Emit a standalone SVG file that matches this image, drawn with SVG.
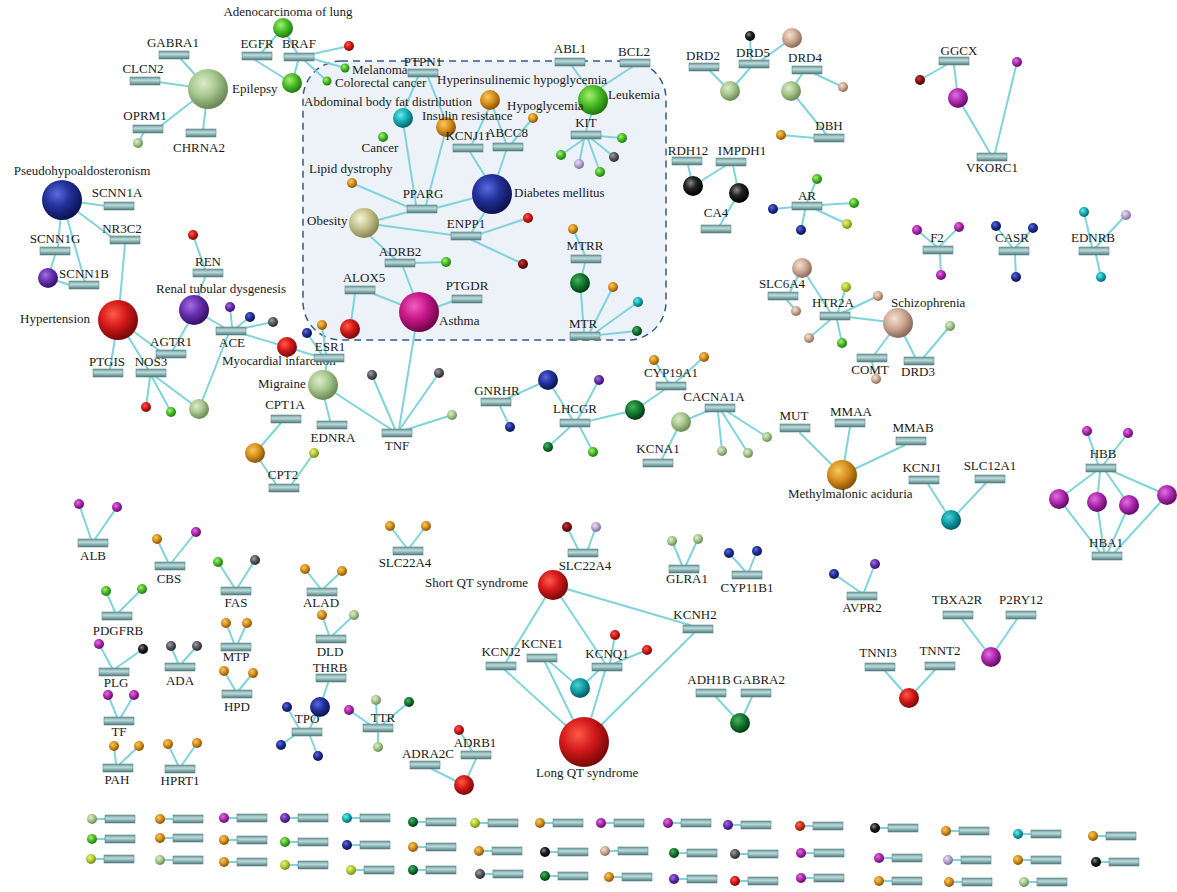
<svg xmlns="http://www.w3.org/2000/svg" xmlns:xlink="http://www.w3.org/1999/xlink" width="1177" height="892" viewBox="0 0 1177 892">
<defs>
<linearGradient id="gb" x1="0" y1="0" x2="0" y2="1"><stop offset="0" stop-color="#6c9496"/><stop offset="0.4" stop-color="#bcdcdc"/><stop offset="0.6" stop-color="#98bebe"/><stop offset="1" stop-color="#4f7678"/></linearGradient>
<rect id="bx" width="30" height="8" fill="url(#gb)" stroke="#5f8789" stroke-width="0.6"/>
<radialGradient id="g-red" cx="0.38" cy="0.35" r="0.65"><stop offset="0" stop-color="#ff5a4a"/><stop offset="0.5" stop-color="#d41a1a"/><stop offset="1" stop-color="#7a0808"/></radialGradient>
<radialGradient id="g-dred" cx="0.38" cy="0.35" r="0.65"><stop offset="0" stop-color="#c04040"/><stop offset="0.5" stop-color="#8a1010"/><stop offset="1" stop-color="#4a0404"/></radialGradient>
<radialGradient id="g-grn" cx="0.38" cy="0.35" r="0.65"><stop offset="0" stop-color="#a8f070"/><stop offset="0.5" stop-color="#4cbf2a"/><stop offset="1" stop-color="#1f7a10"/></radialGradient>
<radialGradient id="g-dgrn" cx="0.38" cy="0.35" r="0.65"><stop offset="0" stop-color="#4cb060"/><stop offset="0.5" stop-color="#137a30"/><stop offset="1" stop-color="#063a14"/></radialGradient>
<radialGradient id="g-sage" cx="0.38" cy="0.35" r="0.65"><stop offset="0" stop-color="#dcecc8"/><stop offset="0.5" stop-color="#a8c890"/><stop offset="1" stop-color="#6a8a55"/></radialGradient>
<radialGradient id="g-yg" cx="0.38" cy="0.35" r="0.65"><stop offset="0" stop-color="#eef080"/><stop offset="0.5" stop-color="#b8cc3a"/><stop offset="1" stop-color="#788a10"/></radialGradient>
<radialGradient id="g-org" cx="0.38" cy="0.35" r="0.65"><stop offset="0" stop-color="#f8c860"/><stop offset="0.5" stop-color="#d8921e"/><stop offset="1" stop-color="#8a5405"/></radialGradient>
<radialGradient id="g-pur" cx="0.38" cy="0.35" r="0.65"><stop offset="0" stop-color="#e070e0"/><stop offset="0.5" stop-color="#b02cb0"/><stop offset="1" stop-color="#650a6a"/></radialGradient>
<radialGradient id="g-vio" cx="0.38" cy="0.35" r="0.65"><stop offset="0" stop-color="#a070e0"/><stop offset="0.5" stop-color="#6a30b0"/><stop offset="1" stop-color="#35106a"/></radialGradient>
<radialGradient id="g-blu" cx="0.38" cy="0.35" r="0.65"><stop offset="0" stop-color="#5a6ae0"/><stop offset="0.5" stop-color="#22309a"/><stop offset="1" stop-color="#0c1450"/></radialGradient>
<radialGradient id="g-cyn" cx="0.38" cy="0.35" r="0.65"><stop offset="0" stop-color="#70e8f0"/><stop offset="0.5" stop-color="#18b0b8"/><stop offset="1" stop-color="#05666c"/></radialGradient>
<radialGradient id="g-blk" cx="0.38" cy="0.35" r="0.65"><stop offset="0" stop-color="#8a8a8a"/><stop offset="0.45" stop-color="#222"/><stop offset="1" stop-color="#000"/></radialGradient>
<radialGradient id="g-gry" cx="0.38" cy="0.35" r="0.65"><stop offset="0" stop-color="#a0a0a8"/><stop offset="0.5" stop-color="#5a5a60"/><stop offset="1" stop-color="#282830"/></radialGradient>
<radialGradient id="g-tan" cx="0.38" cy="0.35" r="0.65"><stop offset="0" stop-color="#f4e0d0"/><stop offset="0.5" stop-color="#d0ac98"/><stop offset="1" stop-color="#8a6a58"/></radialGradient>
<radialGradient id="g-lav" cx="0.38" cy="0.35" r="0.65"><stop offset="0" stop-color="#ece0f4"/><stop offset="0.5" stop-color="#b8a8d0"/><stop offset="1" stop-color="#7a6a98"/></radialGradient>
<radialGradient id="g-kha" cx="0.38" cy="0.35" r="0.65"><stop offset="0" stop-color="#f4f4d8"/><stop offset="0.5" stop-color="#c8c490"/><stop offset="1" stop-color="#8a8650"/></radialGradient>
<radialGradient id="g-mag" cx="0.38" cy="0.35" r="0.65"><stop offset="0" stop-color="#f060c0"/><stop offset="0.5" stop-color="#c8188a"/><stop offset="1" stop-color="#70064a"/></radialGradient>
<radialGradient id="g-ror" cx="0.38" cy="0.35" r="0.65"><stop offset="0" stop-color="#f07050"/><stop offset="0.5" stop-color="#d03818"/><stop offset="1" stop-color="#801808"/></radialGradient>
<radialGradient id="g-teal" cx="0.38" cy="0.35" r="0.65"><stop offset="0" stop-color="#50d0d0"/><stop offset="0.5" stop-color="#10a0a8"/><stop offset="1" stop-color="#055a60"/></radialGradient>
</defs>
<style>
text{font-family:"Liberation Serif","Times New Roman",serif;font-size:13px;fill:#1a1a1a}
.m{text-anchor:middle}
#connectors line{stroke:#7fd4dc;stroke-width:2;stroke-linecap:round}
.red{fill:url(#g-red)}.dred{fill:url(#g-dred)}.grn{fill:url(#g-grn)}.dgrn{fill:url(#g-dgrn)}.sage{fill:url(#g-sage)}.yg{fill:url(#g-yg)}.org{fill:url(#g-org)}.pur{fill:url(#g-pur)}.vio{fill:url(#g-vio)}.blu{fill:url(#g-blu)}.cyn{fill:url(#g-cyn)}.blk{fill:url(#g-blk)}.gry{fill:url(#g-gry)}.tan{fill:url(#g-tan)}.lav{fill:url(#g-lav)}.kha{fill:url(#g-kha)}.mag{fill:url(#g-mag)}.ror{fill:url(#g-ror)}.teal{fill:url(#g-teal)}
</style>
<rect width="1177" height="892" fill="#fff"/>
<g id="diabetes-module"><rect x="303" y="61" width="363" height="279" rx="38" ry="38" fill="#edf1f8" stroke="#2f5a96" stroke-width="1.5" stroke-dasharray="7,5"/></g>
<g id="connectors">
<line x1="208" y1="89" x2="180" y2="58"/><line x1="208" y1="89" x2="158" y2="82"/><line x1="208" y1="89" x2="158" y2="128"/><line x1="208" y1="89" x2="203" y2="130"/><line x1="144" y1="132" x2="138" y2="143"/>
<line x1="283" y1="28" x2="262" y2="52"/><line x1="283" y1="28" x2="297" y2="53"/><line x1="255" y1="60" x2="292" y2="83"/><line x1="298" y1="61" x2="292" y2="83"/><line x1="308" y1="55" x2="349" y2="46"/><line x1="310" y1="58" x2="345" y2="68"/><line x1="305" y1="61" x2="327" y2="81"/>
<line x1="62" y1="200" x2="106" y2="206"/><line x1="62" y1="200" x2="113" y2="238"/><line x1="62" y1="200" x2="58" y2="247"/><line x1="62" y1="200" x2="85" y2="282"/><line x1="55" y1="255" x2="48" y2="278"/><line x1="48" y1="278" x2="70" y2="285"/><line x1="125" y1="244" x2="120" y2="300"/>
<line x1="118" y1="320" x2="110" y2="369"/><line x1="118" y1="320" x2="148" y2="369"/><line x1="118" y1="320" x2="160" y2="351"/><line x1="173" y1="350" x2="190" y2="320"/><line x1="198" y1="297" x2="205" y2="277"/><line x1="205" y1="269" x2="193" y2="235"/><line x1="194" y1="310" x2="225" y2="328"/><line x1="232" y1="327" x2="230" y2="307"/><line x1="236" y1="328" x2="250" y2="317"/><line x1="240" y1="329" x2="273" y2="322"/><line x1="240" y1="333" x2="287" y2="347"/><line x1="228" y1="335" x2="199" y2="409"/><line x1="150" y1="377" x2="146" y2="407"/><line x1="152" y1="377" x2="171" y2="412"/><line x1="156" y1="377" x2="199" y2="409"/>
<line x1="326" y1="354" x2="322" y2="325"/><line x1="322" y1="355" x2="307" y2="333"/><line x1="316" y1="356" x2="287" y2="347"/><line x1="327" y1="362" x2="323" y2="385"/>
<line x1="325" y1="400" x2="330" y2="421"/><line x1="323" y1="385" x2="392" y2="430"/><line x1="395" y1="429" x2="372" y2="375"/><line x1="400" y1="429" x2="439" y2="373"/><line x1="405" y1="430" x2="452" y2="415"/><line x1="418" y1="312" x2="399" y2="429"/>
<line x1="281" y1="423" x2="255" y2="453"/><line x1="255" y1="453" x2="276" y2="484"/><line x1="292" y1="484" x2="314" y2="453"/>
<line x1="572" y1="66" x2="588" y2="88"/><line x1="632" y1="67" x2="600" y2="88"/><line x1="592" y1="112" x2="586" y2="131"/><line x1="584" y1="139" x2="561" y2="155"/><line x1="584" y1="139" x2="579" y2="164"/><line x1="588" y1="139" x2="600" y2="172"/><line x1="592" y1="139" x2="614" y2="157"/><line x1="598" y1="136" x2="622" y2="138"/>
<line x1="418" y1="77" x2="405" y2="108"/><line x1="428" y1="77" x2="444" y2="117"/><line x1="404" y1="128" x2="416" y2="205"/><line x1="444" y1="137" x2="426" y2="205"/><line x1="352" y1="183" x2="408" y2="207"/><line x1="436" y1="208" x2="474" y2="198"/><line x1="408" y1="212" x2="378" y2="220"/><line x1="488" y1="110" x2="472" y2="144"/><line x1="494" y1="110" x2="506" y2="143"/><line x1="533" y1="118" x2="512" y2="143"/><line x1="470" y1="152" x2="485" y2="176"/><line x1="506" y1="151" x2="498" y2="175"/><line x1="485" y1="212" x2="472" y2="232"/><line x1="364" y1="223" x2="452" y2="235"/><line x1="480" y1="234" x2="528" y2="218"/><line x1="472" y1="240" x2="523" y2="264"/><line x1="370" y1="236" x2="395" y2="259"/><line x1="403" y1="267" x2="413" y2="293"/><line x1="414" y1="263" x2="446" y2="262"/><line x1="355" y1="294" x2="350" y2="329"/><line x1="374" y1="294" x2="402" y2="305"/><line x1="453" y1="301" x2="437" y2="307"/>
<line x1="585" y1="255" x2="573" y2="229"/><line x1="585" y1="263" x2="580" y2="283"/><line x1="581" y1="293" x2="584" y2="332"/><line x1="590" y1="332" x2="613" y2="287"/><line x1="595" y1="333" x2="638" y2="302"/><line x1="598" y1="335" x2="637" y2="331"/>
<line x1="710" y1="71" x2="730" y2="91"/><line x1="750" y1="68" x2="730" y2="91"/><line x1="751" y1="60" x2="750" y2="36"/><line x1="762" y1="60" x2="792" y2="38"/><line x1="802" y1="74" x2="791" y2="91"/><line x1="815" y1="74" x2="843" y2="87"/><line x1="791" y1="91" x2="826" y2="134"/><line x1="815" y1="138" x2="781" y2="135"/>
<line x1="688" y1="165" x2="693" y2="186"/><line x1="725" y1="166" x2="693" y2="186"/><line x1="733" y1="166" x2="739" y2="193"/><line x1="739" y1="193" x2="720" y2="225"/>
<line x1="807" y1="202" x2="817" y2="179"/><line x1="820" y1="205" x2="854" y2="203"/><line x1="815" y1="209" x2="847" y2="224"/><line x1="805" y1="210" x2="801" y2="230"/><line x1="795" y1="207" x2="773" y2="209"/>
<line x1="946" y1="65" x2="920" y2="80"/><line x1="954" y1="65" x2="958" y2="98"/><line x1="958" y1="98" x2="990" y2="153"/><line x1="995" y1="153" x2="1017" y2="62"/>
<line x1="936" y1="246" x2="917" y2="230"/><line x1="940" y1="246" x2="959" y2="227"/><line x1="940" y1="254" x2="941" y2="275"/><line x1="1012" y1="247" x2="996" y2="226"/><line x1="1016" y1="247" x2="1033" y2="228"/><line x1="1015" y1="255" x2="1016" y2="277"/><line x1="1092" y1="247" x2="1084" y2="212"/><line x1="1096" y1="247" x2="1126" y2="215"/><line x1="1096" y1="255" x2="1101" y2="277"/>
<line x1="790" y1="292" x2="802" y2="268"/><line x1="787" y1="300" x2="796" y2="311"/><line x1="802" y1="268" x2="830" y2="312"/><line x1="838" y1="312" x2="846" y2="287"/><line x1="842" y1="313" x2="878" y2="296"/><line x1="830" y1="320" x2="809" y2="338"/><line x1="837" y1="320" x2="842" y2="343"/><line x1="848" y1="317" x2="898" y2="323"/><line x1="898" y1="323" x2="875" y2="354"/><line x1="872" y1="362" x2="876" y2="379"/><line x1="898" y1="323" x2="915" y2="357"/><line x1="924" y1="357" x2="950" y2="326"/>
<line x1="508" y1="398" x2="548" y2="380"/><line x1="500" y1="406" x2="510" y2="427"/><line x1="548" y1="380" x2="572" y2="419"/><line x1="578" y1="419" x2="599" y2="380"/><line x1="570" y1="427" x2="548" y2="447"/><line x1="580" y1="427" x2="593" y2="452"/><line x1="589" y1="421" x2="635" y2="410"/><line x1="635" y1="410" x2="664" y2="390"/><line x1="668" y1="382" x2="654" y2="360"/><line x1="676" y1="382" x2="704" y2="357"/><line x1="681" y1="422" x2="710" y2="410"/><line x1="681" y1="422" x2="662" y2="459"/><line x1="718" y1="412" x2="722" y2="451"/><line x1="722" y1="412" x2="748" y2="453"/><line x1="728" y1="412" x2="767" y2="437"/>
<line x1="800" y1="433" x2="842" y2="475"/><line x1="850" y1="427" x2="842" y2="475"/><line x1="905" y1="445" x2="842" y2="475"/>
<line x1="928" y1="484" x2="951" y2="520"/><line x1="986" y1="483" x2="951" y2="520"/>
<line x1="1098" y1="464" x2="1087" y2="431"/><line x1="1104" y1="464" x2="1128" y2="433"/><line x1="1095" y1="472" x2="1059" y2="499"/><line x1="1100" y1="472" x2="1097" y2="502"/><line x1="1106" y1="472" x2="1129" y2="505"/><line x1="1112" y1="471" x2="1167" y2="495"/><line x1="1100" y1="552" x2="1059" y2="499"/><line x1="1104" y1="552" x2="1097" y2="502"/><line x1="1108" y1="552" x2="1129" y2="505"/><line x1="1115" y1="552" x2="1167" y2="495"/>
<line x1="91" y1="539" x2="79" y2="504"/><line x1="95" y1="539" x2="117" y2="507"/><line x1="168" y1="562" x2="157" y2="539"/><line x1="172" y1="562" x2="196" y2="532"/><line x1="234" y1="587" x2="218" y2="562"/><line x1="238" y1="587" x2="255" y2="560"/><line x1="115" y1="612" x2="106" y2="591"/><line x1="119" y1="612" x2="142" y2="589"/><line x1="112" y1="668" x2="99" y2="644"/><line x1="116" y1="668" x2="143" y2="649"/><line x1="178" y1="663" x2="171" y2="646"/><line x1="182" y1="663" x2="197" y2="646"/><line x1="234" y1="643" x2="226" y2="623"/><line x1="238" y1="643" x2="247" y2="623"/><line x1="235" y1="690" x2="224" y2="671"/><line x1="239" y1="690" x2="253" y2="673"/><line x1="117" y1="717" x2="108" y2="695"/><line x1="121" y1="717" x2="134" y2="695"/><line x1="116" y1="764" x2="114" y2="746"/><line x1="120" y1="764" x2="139" y2="746"/><line x1="178" y1="765" x2="168" y2="744"/><line x1="182" y1="765" x2="197" y2="743"/>
<line x1="406" y1="547" x2="390" y2="526"/><line x1="410" y1="547" x2="426" y2="526"/><line x1="320" y1="588" x2="305" y2="569"/><line x1="324" y1="588" x2="342" y2="571"/><line x1="329" y1="635" x2="322" y2="615"/><line x1="333" y1="635" x2="354" y2="615"/>
<line x1="328" y1="683" x2="320" y2="707"/><line x1="320" y1="707" x2="310" y2="728"/><line x1="300" y1="730" x2="287" y2="707"/><line x1="295" y1="735" x2="281" y2="745"/><line x1="310" y1="736" x2="318" y2="756"/>
<line x1="372" y1="726" x2="349" y2="710"/><line x1="377" y1="724" x2="376" y2="700"/><line x1="383" y1="724" x2="409" y2="702"/><line x1="378" y1="732" x2="378" y2="747"/>
<line x1="472" y1="751" x2="459" y2="730"/><line x1="476" y1="759" x2="464" y2="785"/><line x1="432" y1="769" x2="464" y2="785"/>
<line x1="578" y1="549" x2="567" y2="527"/><line x1="588" y1="549" x2="596" y2="527"/>
<line x1="553" y1="585" x2="506" y2="662"/><line x1="553" y1="585" x2="605" y2="663"/><line x1="553" y1="585" x2="690" y2="625"/><line x1="505" y1="670" x2="584" y2="742"/><line x1="545" y1="662" x2="584" y2="742"/><line x1="550" y1="662" x2="580" y2="688"/><line x1="598" y1="671" x2="580" y2="688"/><line x1="605" y1="671" x2="584" y2="742"/><line x1="610" y1="663" x2="615" y2="635"/><line x1="615" y1="663" x2="647" y2="650"/><line x1="694" y1="633" x2="584" y2="742"/>
<line x1="682" y1="565" x2="672" y2="541"/><line x1="686" y1="565" x2="698" y2="539"/><line x1="745" y1="571" x2="729" y2="553"/><line x1="749" y1="571" x2="757" y2="551"/><line x1="860" y1="592" x2="834" y2="574"/><line x1="864" y1="592" x2="875" y2="564"/>
<line x1="716" y1="697" x2="740" y2="723"/><line x1="752" y1="697" x2="740" y2="723"/>
<line x1="962" y1="619" x2="991" y2="657"/><line x1="1017" y1="619" x2="991" y2="657"/><line x1="885" y1="671" x2="909" y2="698"/><line x1="935" y1="670" x2="909" y2="698"/>
<line x1="97" y1="819" x2="105" y2="819"/><line x1="165" y1="819" x2="173" y2="819"/><line x1="229" y1="818" x2="237" y2="818"/><line x1="290" y1="818" x2="298" y2="818"/><line x1="352" y1="818" x2="360" y2="818"/><line x1="418" y1="822" x2="426" y2="822"/><line x1="480" y1="823" x2="488" y2="823"/><line x1="545" y1="823" x2="553" y2="823"/><line x1="606" y1="823" x2="614" y2="823"/><line x1="673" y1="823" x2="681" y2="823"/><line x1="733" y1="825" x2="741" y2="825"/><line x1="805" y1="826" x2="813" y2="826"/><line x1="880" y1="828" x2="888" y2="828"/><line x1="951" y1="831" x2="959" y2="831"/><line x1="1023" y1="834" x2="1031" y2="834"/><line x1="1098" y1="836" x2="1106" y2="836"/>
<line x1="97" y1="839" x2="105" y2="839"/><line x1="165" y1="838" x2="173" y2="838"/><line x1="229" y1="840" x2="237" y2="840"/><line x1="290" y1="842" x2="298" y2="842"/><line x1="352" y1="845" x2="360" y2="845"/><line x1="418" y1="847" x2="426" y2="847"/><line x1="484" y1="851" x2="492" y2="851"/><line x1="550" y1="852" x2="558" y2="852"/><line x1="610" y1="851" x2="618" y2="851"/><line x1="679" y1="853" x2="687" y2="853"/><line x1="740" y1="854" x2="748" y2="854"/><line x1="806" y1="853" x2="814" y2="853"/><line x1="884" y1="858" x2="892" y2="858"/><line x1="953" y1="860" x2="961" y2="860"/><line x1="1023" y1="860" x2="1031" y2="860"/><line x1="1101" y1="862" x2="1109" y2="862"/>
<line x1="96" y1="859" x2="104" y2="859"/><line x1="165" y1="860" x2="173" y2="860"/><line x1="229" y1="862" x2="237" y2="862"/><line x1="290" y1="865" x2="298" y2="865"/><line x1="356" y1="870" x2="364" y2="870"/><line x1="418" y1="870" x2="426" y2="870"/><line x1="485" y1="874" x2="493" y2="874"/><line x1="550" y1="876" x2="558" y2="876"/><line x1="614" y1="877" x2="622" y2="877"/><line x1="679" y1="879" x2="687" y2="879"/><line x1="740" y1="881" x2="748" y2="881"/><line x1="806" y1="878" x2="814" y2="878"/><line x1="884" y1="881" x2="892" y2="881"/><line x1="954" y1="882" x2="962" y2="882"/><line x1="1029" y1="882" x2="1037" y2="882"/>
</g>
<g id="gene-GABRA1"><use href="#bx" x="159" y="51"/><text class="m" x="173" y="47">GABRA1</text></g>
<g id="gene-CLCN2"><use href="#bx" x="130" y="77"/><text class="m" x="143" y="73">CLCN2</text></g>
<g id="gene-OPRM1"><use href="#bx" x="133" y="125"/><text class="m" x="145" y="120">OPRM1</text></g>
<g id="gene-CHRNA2"><use href="#bx" x="186" y="129"/><text class="m" x="199" y="152">CHRNA2</text></g>
<g id="d-Epilepsy"><circle class="sage" cx="208" cy="89" r="20"/><text x="232" y="93">Epilepsy</text></g>
<g id="s-oprm1"><circle class="sage" cx="138" cy="143" r="5"/></g>
<g id="d-Adeno"><circle class="grn" cx="283" cy="28" r="10"/><text class="m" x="288" y="16">Adenocarcinoma of lung</text></g>
<g id="gene-EGFR"><use href="#bx" x="242" y="52"/><text class="m" x="257" y="48">EGFR</text></g>
<g id="gene-BRAF"><use href="#bx" x="284" y="53"/><text class="m" x="299" y="48">BRAF</text></g>
<g id="s-braf1"><circle class="grn" cx="292" cy="83" r="10"/></g>
<g id="s-braf2"><circle class="red" cx="349" cy="46" r="5"/></g>
<g id="d-Melanoma"><circle class="grn" cx="345" cy="68" r="4.5"/><text x="352" y="74">Melanoma</text></g>
<g id="d-Colorectal"><circle class="grn" cx="327" cy="81" r="4.5"/><text x="335" y="87">Colorectal cancer</text></g>
<g id="d-Pseudo"><circle class="blu" cx="62" cy="200" r="20"/><text class="m" x="82" y="175">Pseudohypoaldosteronism</text></g>
<g id="gene-SCNN1A"><use href="#bx" x="104" y="202"/><text class="m" x="117" y="197">SCNN1A</text></g>
<g id="gene-NR3C2"><use href="#bx" x="110" y="236"/><text class="m" x="122" y="233">NR3C2</text></g>
<g id="gene-SCNN1G"><use href="#bx" x="40" y="247"/><text class="m" x="55" y="243">SCNN1G</text></g>
<g id="s-scnn"><circle class="vio" cx="48" cy="278" r="10"/></g>
<g id="gene-SCNN1B"><use href="#bx" x="69" y="281"/><text class="m" x="84" y="278">SCNN1B</text></g>
<g id="d-Hypertension"><circle class="red" cx="118" cy="320" r="20"/><text x="20" y="323">Hypertension</text></g>
<g id="gene-PTGIS"><use href="#bx" x="93" y="369"/><text class="m" x="107" y="366">PTGIS</text></g>
<g id="gene-NOS3"><use href="#bx" x="136" y="369"/><text class="m" x="151" y="366">NOS3</text></g>
<g id="gene-AGTR1"><use href="#bx" x="156" y="350"/><text class="m" x="171" y="346">AGTR1</text></g>
<g id="d-Renal"><circle class="vio" cx="194" cy="310" r="15"/><text x="156" y="293">Renal tubular dysgenesis</text></g>
<g id="s-ren"><circle class="red" cx="193" cy="235" r="5"/></g>
<g id="gene-REN"><use href="#bx" x="193" y="269"/><text class="m" x="208" y="266">REN</text></g>
<g id="gene-ACE"><use href="#bx" x="216" y="327"/><text class="m" x="232" y="347">ACE</text></g>
<g id="s-ace1"><circle class="vio" cx="230" cy="307" r="5"/></g>
<g id="s-ace2"><circle class="blu" cx="250" cy="317" r="5"/></g>
<g id="s-ace3"><circle class="gry" cx="273" cy="322" r="5"/></g>
<g id="d-MI"><circle class="red" cx="287" cy="347" r="10"/><text x="222" y="365">Myocardial infarction</text></g>
<g id="s-nos1"><circle class="red" cx="146" cy="407" r="5"/></g>
<g id="s-nos2"><circle class="grn" cx="171" cy="412" r="5"/></g>
<g id="s-nos3"><circle class="sage" cx="199" cy="409" r="10"/></g>
<g id="s-esr1"><circle class="org" cx="322" cy="325" r="5"/></g>
<g id="s-esr2"><circle class="blu" cx="307" cy="333" r="5"/></g>
<g id="gene-ESR1"><use href="#bx" x="314" y="354"/><text class="m" x="330" y="351">ESR1</text></g>
<g id="d-Migraine"><circle class="sage" cx="323" cy="385" r="15"/><text x="258" y="388">Migraine</text></g>
<g id="gene-EDNRA"><use href="#bx" x="317" y="421"/><text class="m" x="333" y="442">EDNRA</text></g>
<g id="gene-TNF"><use href="#bx" x="382" y="429"/><text class="m" x="397" y="450">TNF</text></g>
<g id="s-tnf1"><circle class="gry" cx="372" cy="375" r="5"/></g>
<g id="s-tnf2"><circle class="gry" cx="439" cy="373" r="5"/></g>
<g id="s-tnf3"><circle class="sage" cx="452" cy="415" r="5"/></g>
<g id="gene-CPT1A"><use href="#bx" x="271" y="415"/><text class="m" x="285" y="409">CPT1A</text></g>
<g id="s-cpt"><circle class="org" cx="255" cy="453" r="10"/></g>
<g id="gene-CPT2"><use href="#bx" x="269" y="484"/><text class="m" x="283" y="479">CPT2</text></g>
<g id="s-cpt2"><circle class="yg" cx="314" cy="453" r="5"/></g>
<g id="gene-ABL1"><use href="#bx" x="555" y="58"/><text class="m" x="570" y="53">ABL1</text></g>
<g id="gene-BCL2"><use href="#bx" x="620" y="59"/><text class="m" x="634" y="56">BCL2</text></g>
<g id="gene-KIT"><use href="#bx" x="571" y="131"/><text class="m" x="586" y="127">KIT</text></g>
<g id="s-kit1"><circle class="grn" cx="561" cy="155" r="5"/></g>
<g id="s-kit2"><circle class="lav" cx="579" cy="164" r="5"/></g>
<g id="s-kit3"><circle class="grn" cx="600" cy="172" r="5"/></g>
<g id="s-kit4"><circle class="gry" cx="614" cy="157" r="5"/></g>
<g id="s-kit5"><circle class="grn" cx="622" cy="138" r="5"/></g>
<g id="gene-PTPN1"><use href="#bx" x="408" y="69"/><text class="m" x="423" y="66">PTPN1</text></g>
<g id="d-Abdominal"><circle class="cyn" cx="403" cy="118" r="10"/><text x="304" y="106">Abdominal body fat distribution</text></g>
<g id="d-Hyperins"><circle class="org" cx="490" cy="100" r="10"/><text x="437" y="84">Hyperinsulinemic hypoglycemia</text></g>
<g id="d-Leukemia"><circle class="grn" cx="593" cy="100" r="15"/><text x="608" y="99">Leukemia</text></g>
<g id="d-InsulinRes"><circle class="org" cx="446" cy="127" r="10"/><text x="422" y="120">Insulin resistance</text></g>
<g id="d-Hypoglycemia"><circle class="org" cx="533" cy="118" r="5"/><text x="507" y="110">Hypoglycemia</text></g>
<g id="gene-KCNJ11"><use href="#bx" x="453" y="144"/><text class="m" x="468" y="140">KCNJ11</text></g>
<g id="gene-ABCC8"><use href="#bx" x="493" y="143"/><text class="m" x="507" y="137">ABCC8</text></g>
<g id="d-Cancer"><circle class="grn" cx="383" cy="137" r="5"/><text class="m" x="380" y="152">Cancer</text></g>
<g id="d-Lipid"><circle class="org" cx="352" cy="183" r="5"/><text x="309" y="173">Lipid dystrophy</text></g>
<g id="gene-PPARG"><use href="#bx" x="407" y="205"/><text class="m" x="423" y="198">PPARG</text></g>
<g id="d-Diabetes"><circle class="blu" cx="492" cy="194" r="20"/><text x="514" y="197">Diabetes mellitus</text></g>
<g id="d-Obesity"><circle class="kha" cx="364" cy="223" r="15"/><text x="307" y="225">Obesity</text></g>
<g id="gene-ENPP1"><use href="#bx" x="451" y="232"/><text class="m" x="466" y="228">ENPP1</text></g>
<g id="s-enpp1"><circle class="red" cx="528" cy="218" r="5"/></g>
<g id="s-enpp2"><circle class="dred" cx="523" cy="264" r="5"/></g>
<g id="gene-ADRB2"><use href="#bx" x="385" y="259"/><text class="m" x="400" y="256">ADRB2</text></g>
<g id="s-adrb2"><circle class="grn" cx="446" cy="262" r="5"/></g>
<g id="gene-PTGDR"><use href="#bx" x="452" y="295"/><text class="m" x="467" y="290">PTGDR</text></g>
<g id="gene-ALOX5"><use href="#bx" x="345" y="286"/><text class="m" x="364" y="282">ALOX5</text></g>
<g id="s-alox5"><circle class="red" cx="350" cy="329" r="10"/></g>
<g id="d-Asthma"><circle class="mag" cx="419" cy="312" r="20"/><text x="439" y="325">Asthma</text></g>
<g id="gene-MTRR"><use href="#bx" x="571" y="255"/><text class="m" x="585" y="250">MTRR</text></g>
<g id="s-mtrr1"><circle class="org" cx="573" cy="229" r="5"/></g>
<g id="s-mtrr2"><circle class="dgrn" cx="580" cy="283" r="10"/></g>
<g id="gene-MTR"><use href="#bx" x="570" y="332"/><text class="m" x="583" y="328">MTR</text></g>
<g id="s-mtr1"><circle class="org" cx="613" cy="287" r="5"/></g>
<g id="s-mtr2"><circle class="cyn" cx="638" cy="302" r="5"/></g>
<g id="s-mtr3"><circle class="dgrn" cx="637" cy="331" r="5"/></g>
<g id="gene-DRD2"><use href="#bx" x="689" y="63"/><text class="m" x="703" y="60">DRD2</text></g>
<g id="gene-DRD5"><use href="#bx" x="739" y="60"/><text class="m" x="753" y="57">DRD5</text></g>
<g id="s-drd1"><circle class="blk" cx="750" cy="36" r="5"/></g>
<g id="s-drd2"><circle class="tan" cx="792" cy="38" r="10"/></g>
<g id="s-drd3"><circle class="sage" cx="730" cy="91" r="10"/></g>
<g id="gene-DRD4"><use href="#bx" x="792" y="66"/><text class="m" x="805" y="62">DRD4</text></g>
<g id="s-drd4"><circle class="sage" cx="791" cy="91" r="10"/></g>
<g id="s-drd5"><circle class="tan" cx="843" cy="87" r="5"/></g>
<g id="gene-DBH"><use href="#bx" x="814" y="134"/><text class="m" x="829" y="130">DBH</text></g>
<g id="s-dbh"><circle class="org" cx="781" cy="135" r="5"/></g>
<g id="gene-RDH12"><use href="#bx" x="672" y="157"/><text class="m" x="688" y="155">RDH12</text></g>
<g id="gene-IMPDH1"><use href="#bx" x="716" y="158"/><text class="m" x="742" y="155">IMPDH1</text></g>
<g id="s-rdh1"><circle class="blk" cx="693" cy="186" r="10"/></g>
<g id="s-rdh2"><circle class="blk" cx="739" cy="193" r="10"/></g>
<g id="gene-CA4"><use href="#bx" x="701" y="225"/><text class="m" x="716" y="217">CA4</text></g>
<g id="gene-AR"><use href="#bx" x="792" y="202"/><text class="m" x="807" y="200">AR</text></g>
<g id="s-ar1"><circle class="grn" cx="817" cy="179" r="5"/></g>
<g id="s-ar2"><circle class="grn" cx="854" cy="203" r="5"/></g>
<g id="s-ar3"><circle class="yg" cx="847" cy="224" r="5"/></g>
<g id="s-ar4"><circle class="blu" cx="801" cy="230" r="5"/></g>
<g id="s-ar5"><circle class="blu" cx="773" cy="209" r="5"/></g>
<g id="gene-GGCX"><use href="#bx" x="939" y="57"/><text class="m" x="959" y="55">GGCX</text></g>
<g id="s-gg1"><circle class="dred" cx="920" cy="80" r="5"/></g>
<g id="s-gg2"><circle class="pur" cx="958" cy="98" r="10"/></g>
<g id="s-gg3"><circle class="pur" cx="1017" cy="62" r="5"/></g>
<g id="gene-VKORC1"><use href="#bx" x="977" y="153"/><text class="m" x="992" y="172">VKORC1</text></g>
<g id="gene-F2"><use href="#bx" x="923" y="246"/><text class="m" x="937" y="242">F2</text></g>
<g id="s-f2a"><circle class="pur" cx="917" cy="230" r="5"/></g>
<g id="s-f2b"><circle class="pur" cx="959" cy="227" r="5"/></g>
<g id="s-f2c"><circle class="pur" cx="941" cy="275" r="5"/></g>
<g id="gene-CASR"><use href="#bx" x="999" y="247"/><text class="m" x="1012" y="242">CASR</text></g>
<g id="s-ca1"><circle class="blu" cx="996" cy="226" r="5"/></g>
<g id="s-ca2"><circle class="blu" cx="1033" cy="228" r="5"/></g>
<g id="s-ca3"><circle class="blu" cx="1016" cy="277" r="5"/></g>
<g id="gene-EDNRB"><use href="#bx" x="1079" y="247"/><text class="m" x="1093" y="242">EDNRB</text></g>
<g id="s-ed1"><circle class="cyn" cx="1084" cy="212" r="5"/></g>
<g id="s-ed2"><circle class="lav" cx="1126" cy="215" r="5"/></g>
<g id="s-ed3"><circle class="cyn" cx="1101" cy="277" r="5"/></g>
<g id="s-sl1"><circle class="tan" cx="802" cy="268" r="10"/></g>
<g id="gene-SLC6A4"><use href="#bx" x="768" y="292"/><text class="m" x="782" y="288">SLC6A4</text></g>
<g id="s-sl2"><circle class="tan" cx="796" cy="311" r="5"/></g>
<g id="s-ht1"><circle class="yg" cx="846" cy="287" r="5"/></g>
<g id="s-ht2"><circle class="tan" cx="878" cy="296" r="5"/></g>
<g id="gene-HTR2A"><use href="#bx" x="820" y="312"/><text class="m" x="833" y="307">HTR2A</text></g>
<g id="s-ht3"><circle class="tan" cx="809" cy="338" r="5"/></g>
<g id="s-ht4"><circle class="grn" cx="842" cy="343" r="5"/></g>
<g id="d-Schizo"><circle class="tan" cx="898" cy="323" r="15"/><text x="891" y="307">Schizophrenia</text></g>
<g id="gene-COMT"><use href="#bx" x="857" y="354"/><text class="m" x="870" y="374">COMT</text></g>
<g id="s-comt"><circle class="tan" cx="876" cy="379" r="5"/></g>
<g id="gene-DRD3"><use href="#bx" x="904" y="357"/><text class="m" x="918" y="376">DRD3</text></g>
<g id="s-drd3b"><circle class="sage" cx="950" cy="326" r="5"/></g>
<g id="gene-GNRHR"><use href="#bx" x="481" y="398"/><text class="m" x="497" y="395">GNRHR</text></g>
<g id="s-gn1"><circle class="blu" cx="548" cy="380" r="10"/></g>
<g id="s-gn2"><circle class="blu" cx="510" cy="427" r="5"/></g>
<g id="gene-LHCGR"><use href="#bx" x="560" y="419"/><text class="m" x="575" y="413">LHCGR</text></g>
<g id="s-lh1"><circle class="vio" cx="599" cy="380" r="5"/></g>
<g id="s-lh2"><circle class="dgrn" cx="548" cy="447" r="5"/></g>
<g id="s-lh3"><circle class="grn" cx="593" cy="452" r="5"/></g>
<g id="s-lh4"><circle class="dgrn" cx="635" cy="410" r="10"/></g>
<g id="gene-CYP19A1"><use href="#bx" x="656" y="382"/><text class="m" x="671" y="377">CYP19A1</text></g>
<g id="s-cy1"><circle class="org" cx="654" cy="360" r="5"/></g>
<g id="s-cy2"><circle class="org" cx="704" cy="357" r="5"/></g>
<g id="gene-CACNA1A"><use href="#bx" x="705" y="404"/><text class="m" x="714" y="401">CACNA1A</text></g>
<g id="s-cc1"><circle class="sage" cx="681" cy="422" r="10"/></g>
<g id="gene-KCNA1"><use href="#bx" x="643" y="459"/><text class="m" x="658" y="453">KCNA1</text></g>
<g id="s-cc2"><circle class="sage" cx="722" cy="451" r="5"/></g>
<g id="s-cc3"><circle class="sage" cx="748" cy="453" r="5"/></g>
<g id="s-cc4"><circle class="sage" cx="767" cy="437" r="5"/></g>
<g id="gene-MUT"><use href="#bx" x="780" y="424"/><text class="m" x="794" y="420">MUT</text></g>
<g id="gene-MMAA"><use href="#bx" x="835" y="419"/><text class="m" x="851" y="416">MMAA</text></g>
<g id="gene-MMAB"><use href="#bx" x="896" y="437"/><text class="m" x="913" y="432">MMAB</text></g>
<g id="d-Methyl"><circle class="org" cx="842" cy="475" r="15"/><text x="788" y="498">Methylmalonic aciduria</text></g>
<g id="gene-KCNJ1"><use href="#bx" x="909" y="476"/><text class="m" x="922" y="472">KCNJ1</text></g>
<g id="gene-SLC12A1"><use href="#bx" x="975" y="475"/><text class="m" x="990" y="470">SLC12A1</text></g>
<g id="s-kc"><circle class="teal" cx="951" cy="520" r="10"/></g>
<g id="gene-HBB"><use href="#bx" x="1086" y="464"/><text class="m" x="1103" y="458">HBB</text></g>
<g id="s-hb1"><circle class="pur" cx="1087" cy="431" r="5"/></g>
<g id="s-hb2"><circle class="pur" cx="1128" cy="433" r="5"/></g>
<g id="s-hb3"><circle class="pur" cx="1059" cy="499" r="10"/></g>
<g id="s-hb4"><circle class="pur" cx="1097" cy="502" r="10"/></g>
<g id="s-hb5"><circle class="pur" cx="1129" cy="505" r="10"/></g>
<g id="s-hb6"><circle class="pur" cx="1167" cy="495" r="10"/></g>
<g id="gene-HBA1"><use href="#bx" x="1092" y="552"/><text class="m" x="1106" y="547">HBA1</text></g>
<g id="gene-ALB"><use href="#bx" x="78" y="539"/><text class="m" x="93" y="560">ALB</text><circle class="pur" cx="79" cy="504" r="5"/><circle class="pur" cx="117" cy="507" r="5"/></g>
<g id="gene-CBS"><use href="#bx" x="155" y="562"/><text class="m" x="169" y="583">CBS</text><circle class="org" cx="157" cy="539" r="5"/><circle class="pur" cx="196" cy="532" r="5"/></g>
<g id="gene-FAS"><use href="#bx" x="221" y="587"/><text class="m" x="236" y="607">FAS</text><circle class="grn" cx="218" cy="562" r="5"/><circle class="gry" cx="255" cy="560" r="5"/></g>
<g id="gene-PDGFRB"><use href="#bx" x="102" y="612"/><text class="m" x="118" y="635">PDGFRB</text><circle class="grn" cx="106" cy="591" r="5"/><circle class="grn" cx="142" cy="589" r="5"/></g>
<g id="gene-PLG"><use href="#bx" x="99" y="668"/><text class="m" x="116" y="687">PLG</text><circle class="pur" cx="99" cy="644" r="5"/><circle class="blk" cx="143" cy="649" r="5"/></g>
<g id="gene-ADA"><use href="#bx" x="165" y="663"/><text class="m" x="180" y="685">ADA</text><circle class="gry" cx="171" cy="646" r="5"/><circle class="gry" cx="197" cy="646" r="5"/></g>
<g id="gene-MTP"><use href="#bx" x="221" y="643"/><text class="m" x="236" y="661">MTP</text><circle class="org" cx="226" cy="623" r="5"/><circle class="org" cx="247" cy="623" r="5"/></g>
<g id="gene-HPD"><use href="#bx" x="222" y="690"/><text class="m" x="237" y="711">HPD</text><circle class="org" cx="224" cy="671" r="5"/><circle class="org" cx="253" cy="673" r="5"/></g>
<g id="gene-TF"><use href="#bx" x="104" y="717"/><text class="m" x="119" y="736">TF</text><circle class="pur" cx="108" cy="695" r="5"/><circle class="pur" cx="134" cy="695" r="5"/></g>
<g id="gene-PAH"><use href="#bx" x="103" y="764"/><text class="m" x="117" y="784">PAH</text><circle class="org" cx="114" cy="746" r="5"/><circle class="org" cx="139" cy="746" r="5"/></g>
<g id="gene-HPRT1"><use href="#bx" x="165" y="765"/><text class="m" x="180" y="785">HPRT1</text><circle class="org" cx="168" cy="744" r="5"/><circle class="org" cx="197" cy="743" r="5"/></g>
<g id="gene-SLC22A4a"><use href="#bx" x="393" y="547"/><text class="m" x="405" y="567">SLC22A4</text><circle class="org" cx="390" cy="526" r="5"/><circle class="org" cx="426" cy="526" r="5"/></g>
<g id="gene-ALAD"><use href="#bx" x="307" y="588"/><text class="m" x="321" y="607">ALAD</text><circle class="org" cx="305" cy="569" r="5"/><circle class="org" cx="342" cy="571" r="5"/></g>
<g id="gene-DLD"><use href="#bx" x="316" y="635"/><text class="m" x="330" y="656">DLD</text><circle class="org" cx="322" cy="615" r="5"/><circle class="sage" cx="354" cy="615" r="5"/></g>
<g id="gene-THRB"><use href="#bx" x="316" y="674"/><text class="m" x="330" y="672">THRB</text></g>
<g id="s-th"><circle class="blu" cx="320" cy="707" r="10"/></g>
<g id="gene-TPO"><use href="#bx" x="292" y="728"/><text class="m" x="307" y="723">TPO</text></g>
<g id="s-tp1"><circle class="blu" cx="287" cy="707" r="5"/></g>
<g id="s-tp2"><circle class="blu" cx="281" cy="745" r="5"/></g>
<g id="s-tp3"><circle class="blu" cx="318" cy="756" r="5"/></g>
<g id="gene-TTR"><use href="#bx" x="363" y="724"/><text class="m" x="383" y="722">TTR</text><circle class="pur" cx="349" cy="710" r="5"/><circle class="sage" cx="376" cy="700" r="5"/><circle class="dgrn" cx="409" cy="702" r="5"/><circle class="sage" cx="378" cy="747" r="5"/></g>
<g id="gene-ADRB1"><use href="#bx" x="461" y="751"/><text class="m" x="475" y="747">ADRB1</text></g>
<g id="s-ad1"><circle class="red" cx="459" cy="730" r="5"/></g>
<g id="gene-ADRA2C"><use href="#bx" x="410" y="761"/><text class="m" x="428" y="758">ADRA2C</text></g>
<g id="s-ad2"><circle class="red" cx="464" cy="785" r="10"/></g>
<g id="gene-SLC22A4b"><use href="#bx" x="568" y="549"/><text class="m" x="585" y="570">SLC22A4</text><circle class="dred" cx="567" cy="527" r="5"/><circle class="lav" cx="596" cy="527" r="5"/></g>
<g id="d-ShortQT"><circle class="red" cx="553" cy="585" r="15"/><text x="425" y="587">Short QT syndrome</text></g>
<g id="gene-KCNJ2"><use href="#bx" x="486" y="662"/><text class="m" x="501" y="656">KCNJ2</text></g>
<g id="gene-KCNE1"><use href="#bx" x="527" y="654"/><text class="m" x="542" y="648">KCNE1</text></g>
<g id="s-qt1"><circle class="teal" cx="580" cy="688" r="10"/></g>
<g id="gene-KCNQ1"><use href="#bx" x="592" y="663"/><text class="m" x="607" y="658">KCNQ1</text></g>
<g id="s-qt2"><circle class="red" cx="615" cy="635" r="5"/></g>
<g id="s-qt3"><circle class="red" cx="647" cy="650" r="5"/></g>
<g id="gene-KCNH2"><use href="#bx" x="683" y="625"/><text class="m" x="695" y="619">KCNH2</text></g>
<g id="d-LongQT"><circle class="red" cx="584" cy="742" r="25"/><text x="536" y="777">Long QT syndrome</text></g>
<g id="gene-GLRA1"><use href="#bx" x="669" y="565"/><text class="m" x="687" y="583">GLRA1</text><circle class="sage" cx="672" cy="541" r="5"/><circle class="sage" cx="698" cy="539" r="5"/></g>
<g id="gene-CYP11B1"><use href="#bx" x="732" y="571"/><text class="m" x="747" y="592">CYP11B1</text><circle class="blu" cx="729" cy="553" r="5"/><circle class="blu" cx="757" cy="551" r="5"/></g>
<g id="gene-AVPR2"><use href="#bx" x="847" y="592"/><text class="m" x="862" y="612">AVPR2</text><circle class="blu" cx="834" cy="574" r="5"/><circle class="vio" cx="875" cy="564" r="5"/></g>
<g id="gene-ADH1B"><use href="#bx" x="696" y="689"/><text class="m" x="709" y="684">ADH1B</text></g>
<g id="gene-GABRA2"><use href="#bx" x="741" y="689"/><text class="m" x="759" y="684">GABRA2</text></g>
<g id="s-gab"><circle class="dgrn" cx="740" cy="723" r="10"/></g>
<g id="gene-TBXA2R"><use href="#bx" x="943" y="611"/><text class="m" x="957" y="604">TBXA2R</text></g>
<g id="gene-P2RY12"><use href="#bx" x="1006" y="611"/><text class="m" x="1021" y="604">P2RY12</text></g>
<g id="s-tb"><circle class="pur" cx="991" cy="657" r="10"/></g>
<g id="gene-TNNI3"><use href="#bx" x="865" y="663"/><text class="m" x="878" y="657">TNNI3</text></g>
<g id="gene-TNNT2"><use href="#bx" x="925" y="662"/><text class="m" x="940" y="655">TNNT2</text></g>
<g id="s-tn"><circle class="red" cx="909" cy="698" r="10"/></g>
<g id="pairs-row1">
<circle class="sage" cx="92" cy="819" r="5"/><use href="#bx" x="105" y="815"/>
<circle class="org" cx="160" cy="819" r="5"/><use href="#bx" x="173" y="815"/>
<circle class="pur" cx="224" cy="818" r="5"/><use href="#bx" x="237" y="814"/>
<circle class="vio" cx="285" cy="818" r="5"/><use href="#bx" x="298" y="814"/>
<circle class="cyn" cx="347" cy="818" r="5"/><use href="#bx" x="360" y="814"/>
<circle class="dgrn" cx="413" cy="822" r="5"/><use href="#bx" x="426" y="818"/>
<circle class="yg" cx="475" cy="823" r="5"/><use href="#bx" x="488" y="819"/>
<circle class="org" cx="540" cy="823" r="5"/><use href="#bx" x="553" y="819"/>
<circle class="pur" cx="601" cy="823" r="5"/><use href="#bx" x="614" y="819"/>
<circle class="pur" cx="668" cy="823" r="5"/><use href="#bx" x="681" y="819"/>
<circle class="vio" cx="728" cy="825" r="5"/><use href="#bx" x="741" y="821"/>
<circle class="ror" cx="800" cy="826" r="5"/><use href="#bx" x="813" y="822"/>
<circle class="blk" cx="875" cy="828" r="5"/><use href="#bx" x="888" y="824"/>
<circle class="org" cx="946" cy="831" r="5"/><use href="#bx" x="959" y="827"/>
<circle class="cyn" cx="1018" cy="834" r="5"/><use href="#bx" x="1031" y="830"/>
<circle class="org" cx="1093" cy="836" r="5"/><use href="#bx" x="1106" y="832"/>
</g>
<g id="pairs-row2">
<circle class="grn" cx="92" cy="839" r="5"/><use href="#bx" x="105" y="835"/>
<circle class="org" cx="160" cy="838" r="5"/><use href="#bx" x="173" y="834"/>
<circle class="org" cx="224" cy="840" r="5"/><use href="#bx" x="237" y="836"/>
<circle class="grn" cx="285" cy="842" r="5"/><use href="#bx" x="298" y="838"/>
<circle class="blu" cx="347" cy="845" r="5"/><use href="#bx" x="360" y="841"/>
<circle class="org" cx="413" cy="847" r="5"/><use href="#bx" x="426" y="843"/>
<circle class="org" cx="479" cy="851" r="5"/><use href="#bx" x="492" y="847"/>
<circle class="blk" cx="545" cy="852" r="5"/><use href="#bx" x="558" y="848"/>
<circle class="tan" cx="605" cy="851" r="5"/><use href="#bx" x="618" y="847"/>
<circle class="dgrn" cx="674" cy="853" r="5"/><use href="#bx" x="687" y="849"/>
<circle class="gry" cx="735" cy="854" r="5"/><use href="#bx" x="748" y="850"/>
<circle class="pur" cx="801" cy="853" r="5"/><use href="#bx" x="814" y="849"/>
<circle class="pur" cx="879" cy="858" r="5"/><use href="#bx" x="892" y="854"/>
<circle class="lav" cx="948" cy="860" r="5"/><use href="#bx" x="961" y="856"/>
<circle class="org" cx="1018" cy="860" r="5"/><use href="#bx" x="1031" y="856"/>
<circle class="blk" cx="1096" cy="862" r="5"/><use href="#bx" x="1109" y="858"/>
</g>
<g id="pairs-row3">
<circle class="yg" cx="91" cy="859" r="5"/><use href="#bx" x="104" y="855"/>
<circle class="sage" cx="160" cy="860" r="5"/><use href="#bx" x="173" y="856"/>
<circle class="org" cx="224" cy="862" r="5"/><use href="#bx" x="237" y="858"/>
<circle class="yg" cx="285" cy="865" r="5"/><use href="#bx" x="298" y="861"/>
<circle class="yg" cx="351" cy="870" r="5"/><use href="#bx" x="364" y="866"/>
<circle class="dgrn" cx="413" cy="870" r="5"/><use href="#bx" x="426" y="866"/>
<circle class="gry" cx="480" cy="874" r="5"/><use href="#bx" x="493" y="870"/>
<circle class="dgrn" cx="545" cy="876" r="5"/><use href="#bx" x="558" y="872"/>
<circle class="org" cx="609" cy="877" r="5"/><use href="#bx" x="622" y="873"/>
<circle class="vio" cx="674" cy="879" r="5"/><use href="#bx" x="687" y="875"/>
<circle class="red" cx="735" cy="881" r="5"/><use href="#bx" x="748" y="877"/>
<circle class="pur" cx="801" cy="878" r="5"/><use href="#bx" x="814" y="874"/>
<circle class="org" cx="879" cy="881" r="5"/><use href="#bx" x="892" y="877"/>
<circle class="org" cx="949" cy="882" r="5"/><use href="#bx" x="962" y="878"/>
<circle class="sage" cx="1024" cy="882" r="5"/><use href="#bx" x="1037" y="878"/>
</g>
</svg>
